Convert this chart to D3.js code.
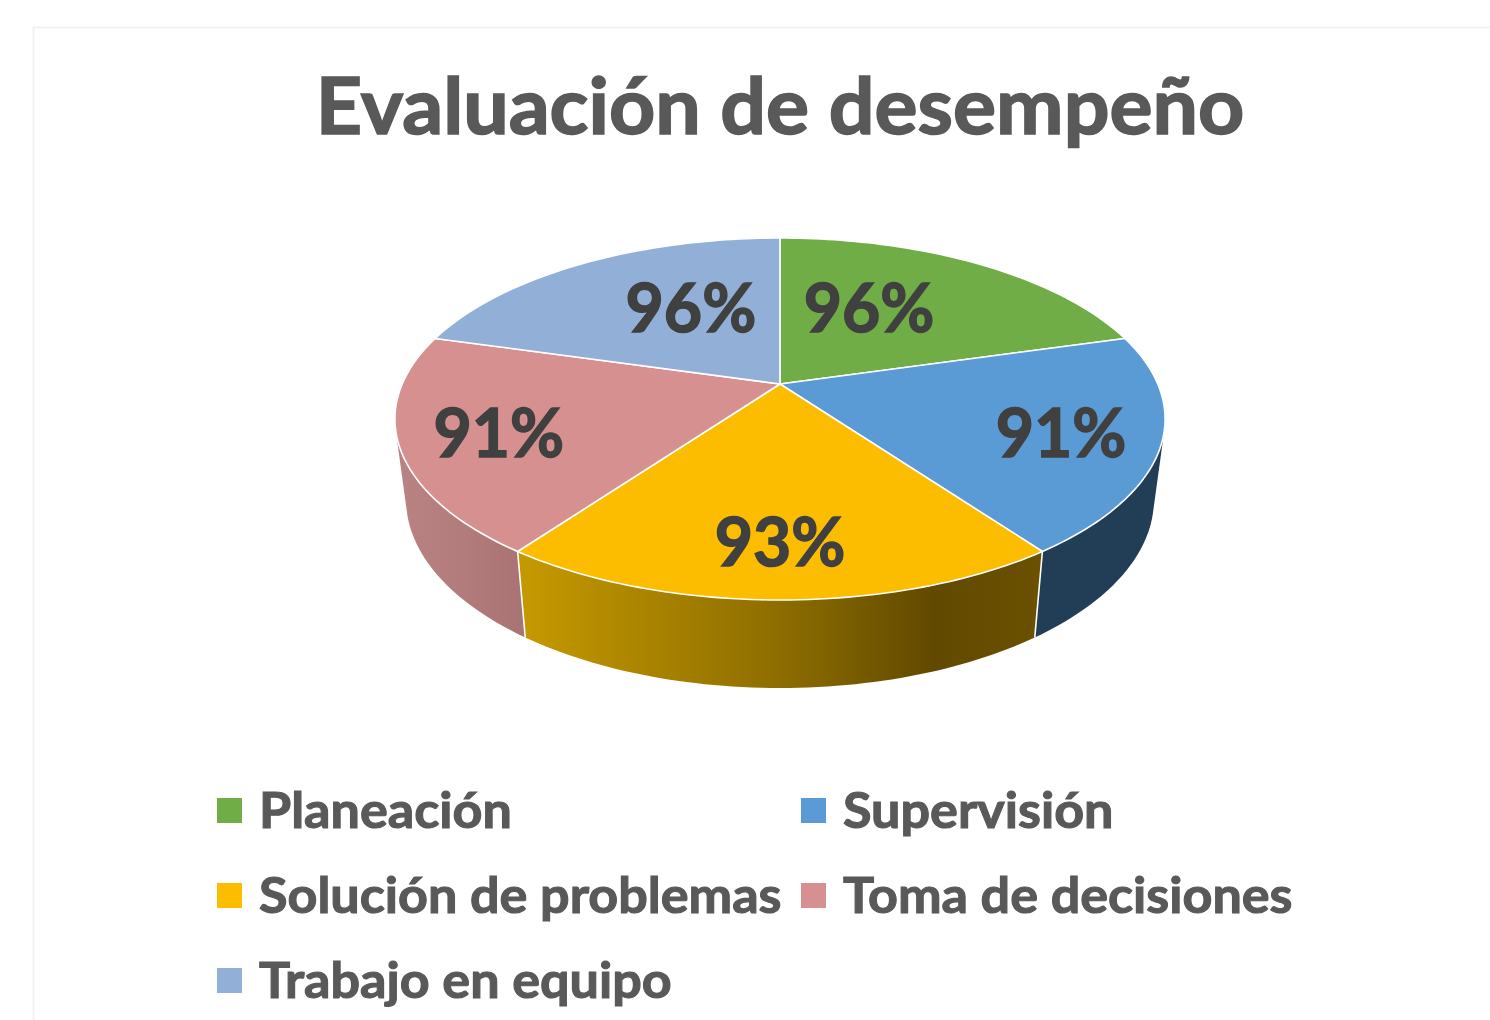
<!DOCTYPE html>
<html lang="en">
<meta charset="utf-8">
<script src="https://d3js.org/d3.v7.min.js"></script>
<style>
    html, body {margin: 0; background: #fff;}
    svg {display: block;}
    text {font-family: Lato, "Open Sans", sans-serif; font-weight: 700;}
    .title {font-size: 78px; fill: #595959; stroke: #595959; stroke-width: 1.6px; text-anchor: middle;}
    .pct {font-size: 66px; fill: #404040; stroke: #404040; stroke-width: 1.5px; text-anchor: middle;}
    .legend text {font-size: 50px; fill: #595959; stroke: #595959; stroke-width: 1.1px;}
</style>
<body>
    <svg width="1490" height="1020"></svg>
</body>
<script>
    var titleText = "Evaluación de desempeño";
    var categories = ["Planeación", "Supervisión", "Solución de problemas", "Toma de decisiones", "Trabajo en equipo"];
    var values = [96, 91, 93, 91, 96];
    var topColors = ["#70ad47", "#5b9bd5", "#fcbc00", "#d69090", "#92b0d7"];
    var sideFills = ["#44692b", "#223e57", "url(#goldSide)", "url(#pinkSide)", "#58708e"];

    // label placement inside each slice: fraction of the radius, then a small lift in px
    var labelRadius = [0.417, 0.75, 0.776, 0.75, 0.417];
    var labelLift = [-20, 5, 0, 5, -20];

    var svg = d3.select("svg");

    // the pie is a circle seen in perspective, so the slices meet above the middle of the ellipse
    var cx = 780, cy = 384, k = -0.1934, rA = 99.96, rC = 377.8;

    function projectTop(a, r) {
        if (r === undefined) r = 1;
        var u = r * Math.sin(a), v = -r * Math.cos(a), w = 1 + k * v;
        return [cx + rC * u / w, (rA * v + cy) / w];
    }

    // rim bottom: same ring, slightly narrower and lower
    var bottomX = d3.scaleLinear().domain([cx - 100, cx + 100]).range([cx - 97.1, cx + 97.1]);
    var bottomY = d3.scaleLinear().domain([551.5, 600]).range([637.5, 688]);

    function projectBottom(a) {
        var p = projectTop(a);
        return [bottomX(p[0]), bottomY(p[1])];
    }

    var slices = d3.pie().sort(null)(values);
    var line = d3.line();

    function arcAngles(s) {
        return d3.range(0, 61).map(d3.scaleLinear().domain([0, 60]).range([s.startAngle, s.endAngle]));
    }

    var defs = svg.append("defs");
    var goldGrad = defs.append("linearGradient").attr("id", "goldSide").attr("gradientUnits", "userSpaceOnUse")
        .attr("x1", 527).attr("x2", 1035).attr("y1", 0).attr("y2", 0);
    [[0, "#c49800"], [0.5, "#8d6d00"], [0.8, "#614900"], [1, "#6a5000"]].forEach(function(d) {
        goldGrad.append("stop").attr("offset", d[0]).attr("stop-color", d[1]);
    });
    var pinkGrad = defs.append("linearGradient").attr("id", "pinkSide").attr("gradientUnits", "userSpaceOnUse")
        .attr("x1", 398).attr("x2", 527).attr("y1", 0).attr("y2", 0);
    [[0, "#b98383"], [0.5, "#b27c7c"], [1, "#a87272"]].forEach(function(d) {
        pinkGrad.append("stop").attr("offset", d[0]).attr("stop-color", d[1]);
    });

    // faint frame of the chart area
    svg.append("path").attr("d", "M33.5,1020V27.5H1490").attr("fill", "none").attr("stroke", "#f1f1f1").attr("stroke-width", 2);

    svg.append("text").attr("class", "title").attr("transform", "translate(780,134) scale(1.034,1)").text(titleText);

    // rim first, the top face covers its hidden part
    var rimOrder = [0, 4, 1, 3, 2];
    svg.append("g").selectAll("path").data(rimOrder).enter().append("path")
        .attr("d", function(i) {
            var angles = arcAngles(slices[i]);
            // hull keeps the outer silhouette where the rim turns round the side of the disc
            return line(d3.polygonHull(angles.map(function(a) {return projectTop(a);}).concat(angles.map(projectBottom)))) + "Z";
        })
        .attr("fill", function(i) {return sideFills[i];});

    // white seams where the rim pieces meet at the front
    svg.append("g").selectAll("line").data([slices[2].startAngle, slices[2].endAngle]).enter().append("line")
        .attr("x1", function(a) {return projectTop(a)[0];})
        .attr("y1", function(a) {return projectTop(a)[1];})
        .attr("x2", function(a) {return projectBottom(a)[0];})
        .attr("y2", function(a) {return projectBottom(a)[1];})
        .attr("stroke", "#fff").attr("stroke-width", 1.6);

    svg.append("g").selectAll("path").data(slices).enter().append("path")
        .attr("d", function(s) {
            return line([[cx, cy]].concat(arcAngles(s).map(function(a) {return projectTop(a);}))) + "Z";
        })
        .attr("fill", function(s, i) {return topColors[i];})
        .attr("stroke", "#fff").attr("stroke-width", 1.6).attr("stroke-linejoin", "round");

    svg.append("g").selectAll("text").data(slices).enter().append("text")
        .attr("class", "pct")
        .attr("x", function(s, i) {return projectTop((s.startAngle + s.endAngle) / 2, labelRadius[i])[0];})
        .attr("y", function(s, i) {return projectTop((s.startAngle + s.endAngle) / 2, labelRadius[i])[1] + labelLift[i] + 23;})
        .text(function(s) {return s.value + "%";});

    var legendCol = d3.scalePoint().domain([0, 1]).range([217, 801]);
    var legendRow = d3.scalePoint().domain([0, 1, 2]).range([811, 981]);
    var legend = svg.append("g").attr("class", "legend").selectAll("g").data(categories).enter().append("g")
        .attr("transform", function(d, i) {return "translate(" + legendCol(i % 2) + "," + legendRow(Math.floor(i / 2)) + ")";});
    legend.append("rect").attr("y", -13).attr("width", 25).attr("height", 25).attr("fill", function(d, i) {return topColors[i];});
    legend.append("text").attr("transform", "translate(42,17) scale(1.042,1)").text(function(d) {return d;});
</script>
</html>
